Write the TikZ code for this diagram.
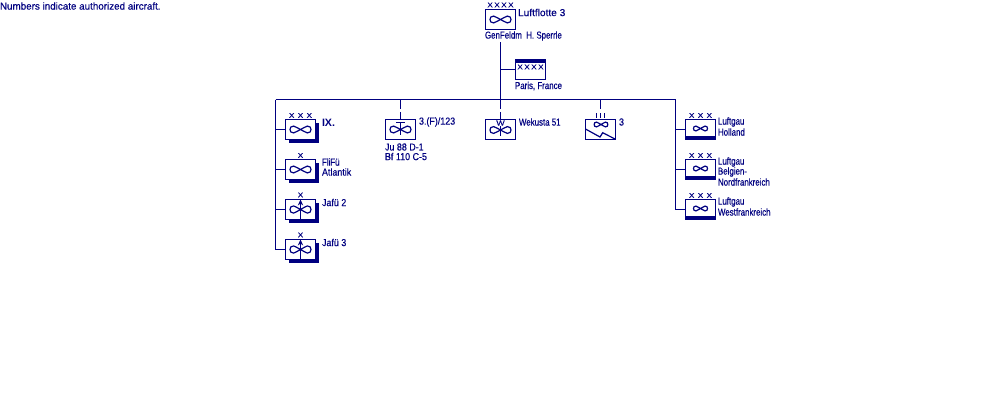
\documentclass[tikz,border=0pt]{standalone}
\usepackage{fontspec}
\usetikzlibrary{arrows.meta}
\setmainfont{Liberation Sans}
\newfontfamily\fa[FakeStretch=0.97,FakeBold=0.35]{Liberation Sans}
\newfontfamily\fb[FakeStretch=0.78,FakeBold=0.35]{Liberation Sans}
\newfontfamily\fc[FakeStretch=0.88,FakeBold=0.35]{Liberation Sans}
\newfontfamily\fd[FakeStretch=1.0,FakeBold=0.35]{Liberation Sans}
\newfontfamily\fx[FakeStretch=1.2,FakeBold=0.1]{Liberation Sans}
\definecolor{nv}{HTML}{000080}
\newcommand\pxfont{\fontsize{7.6pt}{7.6pt}\selectfont}
\newcommand\xmark{\fontsize{5pt}{5pt}\selectfont}
\tikzset{
 line/.style={draw=nv,line width=0.9pt},
 unitbox/.style={line,fill=white,minimum width=22.5pt,minimum height=15pt,inner sep=0pt,outer sep=0pt},
 lbl/.style={inner sep=0pt,outer sep=0pt,anchor=west,text=nv,font=\pxfont\fb},
 lblA/.style={lbl,font=\pxfont\fa},
 lblC/.style={lbl,font=\pxfont\fc},
 lblD/.style={lbl,font=\pxfont\fd},
 cross/.style={inner sep=0pt,outer sep=0pt,text=nv,font=\xmark\fx},
 stub/.style={line},
 stem/.style={line,dash pattern=on 6.75pt off 2.6pt on 30pt,shorten >=0.75pt},
}
\newcommand\unitshadow[2]{\fill[nv] (#1-15+3,#2-10+3) rectangle (#1+15+3,#2+10+3);}
\newcommand\lobes[4]{\begin{scope}[shift={(#1,#2)}]
 \draw[line] (0,0)
  .. controls ({0.3*#3},{-0.1*#4}) and ({0.35*#3},{-#4}) .. ({0.65*#3},{-#4})
  .. controls ({0.9*#3},{-#4}) and ({#3},{-0.6*#4}) .. ({#3},0)
  .. controls ({#3},{0.6*#4}) and ({0.9*#3},{#4}) .. ({0.65*#3},{#4})
  .. controls ({0.35*#3},{#4}) and ({0.3*#3},{0.1*#4}) .. (0,0)
  .. controls ({-0.3*#3},{-0.1*#4}) and ({-0.35*#3},{-#4}) .. ({-0.65*#3},{-#4})
  .. controls ({-0.9*#3},{-#4}) and ({-#3},{-0.6*#4}) .. ({-#3},0)
  .. controls ({-#3},{0.6*#4}) and ({-0.9*#3},{#4}) .. ({-0.65*#3},{#4})
  .. controls ({-0.35*#3},{#4}) and ({-0.3*#3},{0.1*#4}) .. (0,0);
\end{scope}}
\begin{document}
\begin{tikzpicture}[x=0.75pt,y=-0.75pt]
\useasboundingbox[fill=white] (0,0) rectangle (1000,400);
\node[lblA] (note) at (0,6) {Numbers indicate authorized aircraft.};
% top
\node[unitbox] (top) at (500.5,19.5) {};
\lobes{500.5}{19.5}{10.5}{3.4}
\node[cross] (topx) at (500.5,5) {X\kern1.2pt X\kern1.2pt X\kern1.2pt X};
\node[lblD] (toplbl) at (518,12.5) {Luftflotte 3};
\node[lbl] (gen) at (485,36) {GenFeldm\ \ H. Sperrle};
\coordinate (topstem) at (500.5,42);
\coordinate (busc) at (500.5,99.5);
\coordinate (busl) at (275.5,99.5);
\coordinate (busr) at (675.5,99.5);
% Paris
\node[unitbox] (paris) at (530.5,69.5) {};
\fill[nv] (515.5,60) rectangle (546,63);
\node[cross] (parisx) at (530.5,67) {X\kern1.2pt X\kern1.2pt X\kern1.2pt X};
\node[lbl] (parislbl) at (515,86) {Paris, France};
\draw[line] (topstem) -- (busc);
\draw[line] (topstem |- paris.west) -- (paris.west);
\draw[line] (busl) -- (busr);
% left column
\unitshadow{300.5}{129.5}
\unitshadow{300.5}{169.5}
\unitshadow{300.5}{209.5}
\unitshadow{300.5}{249.5}
\node[unitbox] (ix) at (300.5,129.5) {};
\node[unitbox] (fli) at (300.5,169.5) {};
\node[unitbox] (jafa) at (300.5,209.5) {};
\node[unitbox] (jafb) at (300.5,249.5) {};
\lobes{300.5}{129.5}{10.5}{3.4}
\lobes{300.5}{169.5}{10.5}{3.4}
\lobes{300.5}{209.5}{10.5}{3.6}
\lobes{300.5}{249.5}{10.5}{3.6}
\draw[line,-{Stealth[length=4.5pt,width=4pt]}] (jafa.south) -- ++(0,-1.5) -- (jafa.north);
\draw[line,-{Stealth[length=4.5pt,width=4pt]}] (jafb.south) -- ++(0,-1.5) -- (jafb.north);
\node[cross] (ixx) at (300.5,115.5) {X\kern2.6pt X\kern2.6pt X};
\node[cross] (flix) at (300.5,155.5) {X};
\node[cross] (jafax) at (300.5,195) {X};
\node[cross] (jafbx) at (300.5,235) {X};
\node[lbl,font=\fontsize{8pt}{8pt}\selectfont\bfseries] (ixl) at (322,122.5) {IX.};
\node[lbl] (flia) at (322,162) {FliFü};
\node[lblC] (flib) at (322,172) {Atlantik};
\node[lblC] (jafal) at (322,202.5) {Jafü 2};
\node[lblC] (jafbl) at (322,242.5) {Jafü 3};
\draw[line] (busl) -- (busl |- jafb.west) -- (jafb.west);
\draw[stub] (busl |- ix.west) -- (ix.west);
\draw[stub] (busl |- fli.west) -- (fli.west);
\draw[stub] (busl |- jafa.west) -- (jafa.west);
% centre row
\node[unitbox] (fa) at (400.5,129.5) {};
\lobes{400.5}{129.5}{10.5}{3.4}
\draw[line] (400.5,122) -- (400.5,135);
\draw[line] (396,122.5) -- (405,122.5);
\draw[stem] (busl -| fa.north) -- (fa.north);
\node[lblC] (falbl) at (419,122) {3.(F)/123};
\node[lblC] (faa) at (385,147) {Ju 88 D-1};
\node[lblC] (fab) at (385,156.5) {Bf 110 C-5};
\node[unitbox] (wk) at (500.5,129.5) {};
\lobes{500.5}{130}{10.5}{3.4}
\draw[line] (500.5,126) -- (500.5,135.5);
\node[cross] (wkw) at (500.5,123) {\fontsize{5.5pt}{5.5pt}\selectfont W};
\draw[stem] (busl -| wk.north) -- (wk.north);
\node[lbl] (wklbl) at (519,122) {Wekusta 51};
\node[unitbox] (nr) at (600.5,129.5) {};
\lobes{601}{124.5}{6.8}{2.4}
\draw[line] (585.5,129) -- (600,137) -- (602.7,132.7) -- (615,139);
\draw[line] (busl -| nr.north) -- (600.5,109);
\draw[line] (596.5,113) -- (596.5,118);
\draw[line] (600.5,113) -- (600.5,118);
\draw[line] (604.5,113) -- (604.5,118);
\node[lblC] (nrlbl) at (619,122) {3};
% right column
\node[unitbox] (ga) at (700.5,129.5) {};
\node[unitbox] (gb) at (700.5,169.5) {};
\node[unitbox] (gc) at (700.5,209.5) {};
\fill[nv] (685.5,136) rectangle (716,139.9);
\fill[nv] (685.5,176) rectangle (716,179.9);
\fill[nv] (685.5,216) rectangle (716,219.9);
\lobes{700.5}{128.5}{7}{2.4}
\lobes{700.5}{168.5}{7}{2.4}
\lobes{700.5}{208.5}{7}{2.4}
\node[cross] (gax) at (700.5,115.5) {X\kern2.6pt X\kern2.6pt X};
\node[cross] (gbx) at (700.5,155.5) {X\kern2.6pt X\kern2.6pt X};
\node[cross] (gcx) at (700.5,195.5) {X\kern2.6pt X\kern2.6pt X};
\node[lbl] (gaa) at (718,122) {Luftgau};
\node[lbl] (gab) at (718,132) {Holland};
\node[lbl] (gba) at (718,162) {Luftgau};
\node[lbl] (gbb) at (718,172) {Belgien-};
\node[lbl] (gbc) at (718,182) {Nordfrankreich};
\node[lbl] (gca) at (718,202) {Luftgau};
\node[lbl] (gcb) at (718,212) {Westfrankreich};
\draw[line] (busr) -- (busr |- gc.west) -- (gc.west);
\draw[stub] (busr |- ga.west) -- (ga.west);
\draw[stub] (busr |- gb.west) -- (gb.west);
\end{tikzpicture}
\end{document}
